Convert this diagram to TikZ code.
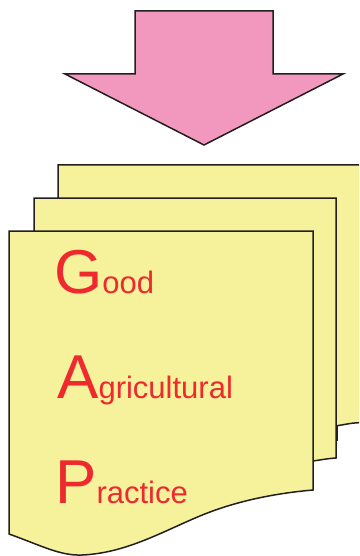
\documentclass[tikz,border=0pt]{standalone}
\usepackage{fontspec}
\setmainfont{Liberation Sans}
\definecolor{pagefill}{HTML}{F6F19B}
\definecolor{arrowfill}{HTML}{F298BF}
\definecolor{edge}{HTML}{231F20}
\definecolor{gapred}{HTML}{EE2A2F}
\newcommand{\bigini}[1]{{\fontsize{62}{62}\selectfont #1}}
\tikzset{
  pagebox/.style={fill=pagefill, draw=edge, line width=1.5pt, line join=miter},
  bigarrow/.style={fill=arrowfill, draw=edge, line width=1.5pt, line join=miter},
  gapword/.style={anchor=base west, inner sep=0pt, text=gapred, font=\fontsize{31}{31}\selectfont}
}
\begin{document}
\begin{tikzpicture}[x=1pt,y=-1pt]
\fill[white] (0,0) rectangle (359,556);
\clip (0,0) rectangle (359,556);
% arrow
\draw[bigarrow] (135,11) -- (273,11) -- (273,74) -- (343,74) -- (204,145) -- (65,74) -- (135,74) -- cycle;
% back page
\draw[pagebox] (58,165) -- (370,165) -- (370,422.5) -- (359,422.7) .. controls (350,423) and (343,425) .. (337,425.7) -- (337,440) -- (58,440) -- cycle;
% middle page
\draw[pagebox] (34,198) -- (336,198) -- (336,458) .. controls (328,458.5) and (320,460) .. (313,461) -- (313,480) -- (34,480) -- cycle;
% front page
\draw[pagebox] (9,231) -- (313,231) -- (313,490)
  .. controls (290,492) and (250,497) .. (210,512)
  .. controls (170,527) and (130,553) .. (82,555)
  .. controls (60,556) and (40,545) .. (9,534) -- cycle;
% text
\node[gapword] (good) at (54,293) {\bigini{G}ood};
\node[gapword] (agri) at (57,398) {\bigini{A}gricultural};
\node[gapword] (prac) at (55,503) {\bigini{P}ractice};
\end{tikzpicture}
\end{document}
